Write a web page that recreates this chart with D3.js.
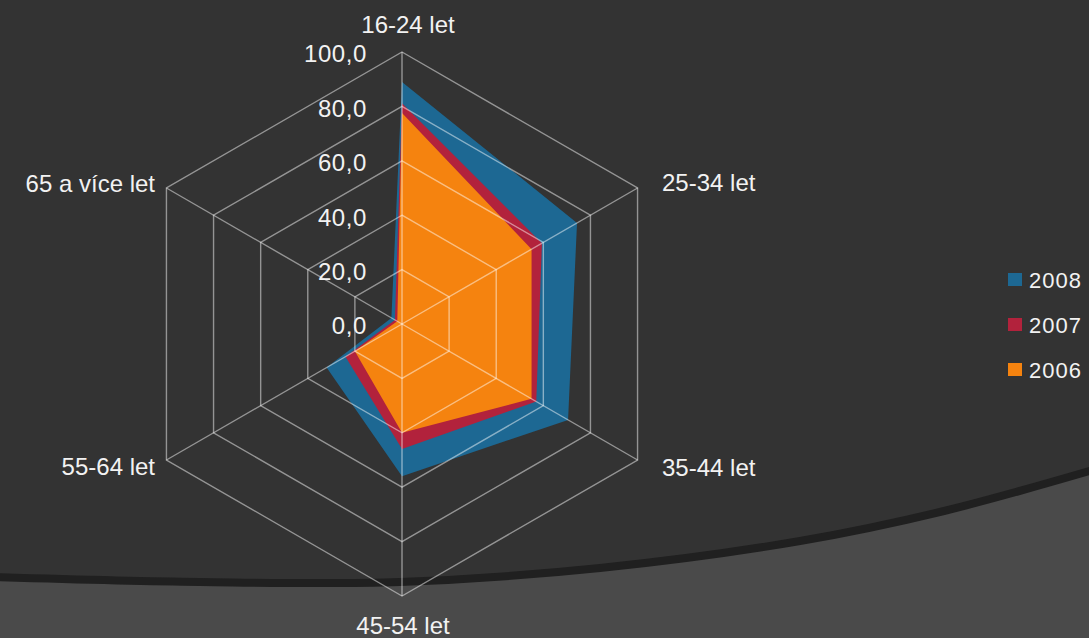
<!DOCTYPE html>
<html>
<head>
<meta charset="utf-8">
<script src="https://cdn.jsdelivr.net/npm/d3@7"></script>
<style>
  html, body { margin: 0; padding: 0; background: #333333; }
  svg { display: block; }
  text { font-family: "Liberation Sans", Arial, sans-serif; fill: #f2f2f2; }
</style>
</head>
<body>
<div id="chart"></div>
<script>
// age groups (clockwise from top)
const categories = ['16-24 let', '25-34 let', '35-44 let', '45-54 let', '55-64 let', '65 a více let'];
const series = ['2008', '2007', '2006'];
const values2008 = [89.0, 74.3, 70.5, 56.0, 32.0, 4.5];
const values2007 = [81.2, 59.4, 57.0, 46.0, 24.0, 3.0];
const values2006 = [77.6, 55.0, 55.0, 40.0, 20.0, 2.0];
const ticks = [0, 20, 40, 60, 80, 100];

const colors = { '2008': '#1d6893', '2007': '#b2223c', '2006': '#f5830f' };
const seriesValues = { '2008': values2008, '2007': values2007, '2006': values2006 };

function renderRadar(containerId) {
    const W = 1089, H = 638;
    const cx = 402, cy = 324, R = 272;

    const svg = d3.select(`#${containerId}`)
        .append('svg')
        .attr('width', W)
        .attr('height', H);

    // slide background: dark top, lighter band below a curved rule
    svg.append('rect').attr('width', W).attr('height', H).attr('fill', '#333333');
    const curvePts = [[-10, 577], [200, 582], [400, 582], [600, 568], [800, 541], [944, 511], [1100, 468]];
    const curve = d3.line().curve(d3.curveCatmullRom);
    svg.append('path')
        .attr('d', curve(curvePts) + `L1100,${H + 10}L-10,${H + 10}Z`)
        .attr('fill', '#4a4a4a');
    svg.append('path')
        .attr('d', curve(curvePts))
        .attr('fill', 'none')
        .attr('stroke', '#202020')
        .attr('stroke-width', 8);

    const g = svg.append('g').attr('transform', `translate(${cx},${cy})`);

    const r = d3.scaleLinear().domain([0, 100]).range([0, R]);
    const angle = d3.scaleLinear().domain([0, categories.length]).range([0, 2 * Math.PI]);

    const radial = d3.lineRadial()
        .angle((d, i) => angle(i))
        .radius(d => r(d))
        .curve(d3.curveLinearClosed);

    // filled series, largest first
    series.forEach(s => {
        g.append('path')
            .datum(seriesValues[s])
            .attr('d', radial)
            .attr('fill', colors[s]);
    });

    // grid on top, semi transparent
    const grid = g.append('g')
        .attr('stroke', '#ffffff')
        .attr('stroke-opacity', 0.48)
        .attr('stroke-width', 1.4)
        .attr('fill', 'none');

    ticks.filter(t => t > 0).forEach(t => {
        grid.append('path')
            .datum(categories.map(() => t))
            .attr('d', radial);
    });

    categories.forEach((c, i) => {
        const a = angle(i);
        grid.append('line')
            .attr('x1', 0).attr('y1', 0)
            .attr('x2', r(100) * Math.sin(a))
            .attr('y2', -r(100) * Math.cos(a));
    });

    // tick labels along the top axis
    g.selectAll('.tick-label')
        .data(ticks)
        .enter()
        .append('text')
        .attr('x', -35)
        .attr('y', d => -r(d) + 2)
        .attr('dy', '0.35em')
        .attr('text-anchor', 'end')
        .style('font-size', '24px')
        .style('letter-spacing', '0.6px')
        .text(d => d3.format('.1f')(d).replace('.', ','));

    // category labels
    const labelPos = [
        { dx: 6, dy: -299, anchor: 'middle' },
        { dx: 260, dy: -141, anchor: 'start' },
        { dx: 260, dy: 144, anchor: 'start' },
        { dx: 1, dy: 302, anchor: 'middle' },
        { dx: -247, dy: 143, anchor: 'end' },
        { dx: -247, dy: -140, anchor: 'end' }
    ];
    categories.forEach((c, i) => {
        g.append('text')
            .attr('x', labelPos[i].dx)
            .attr('y', labelPos[i].dy)
            .attr('dy', '0.35em')
            .attr('text-anchor', labelPos[i].anchor)
            .style('font-size', '24px')
            .text(c);
    });

    // legend
    const legend = svg.append('g').attr('transform', 'translate(1008,280)');
    series.forEach((s, i) => {
        const row = legend.append('g').attr('transform', `translate(0,${i * 45})`);
        row.append('rect')
            .attr('x', 0).attr('y', -7)
            .attr('width', 14).attr('height', 13)
            .attr('fill', colors[s]);
        row.append('text')
            .attr('x', 21)
            .attr('y', 0)
            .attr('dy', '0.35em')
            .style('font-size', '22px')
            .style('letter-spacing', '1px')
            .text(s);
    });
}

renderRadar('chart');
</script>
</body>
</html>
